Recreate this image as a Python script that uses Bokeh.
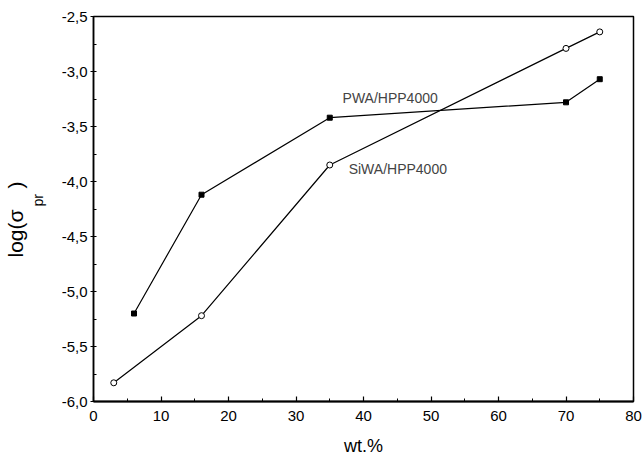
from bokeh.plotting import figure
from bokeh.models import FixedTicker, Label, Range1d, CustomJSTickFormatter, Title
from bokeh.embed import file_html
from bokeh.resources import INLINE

# data
wt_pwa = [6, 16, 35, 70, 75]
log_pwa = [-5.20, -4.12, -3.42, -3.28, -3.07]
wt_siwa = [3, 16, 35, 70, 75]
log_siwa = [-5.83, -5.22, -3.85, -2.79, -2.64]

x_ticks = [0, 10, 20, 30, 40, 50, 60, 70, 80]
y_ticks = [-6.0, -5.5, -5.0, -4.5, -4.0, -3.5, -3.0, -2.5]
series_names = ["PWA/HPP4000", "SiWA/HPP4000"]
x_title = "wt.%"
y_title_main = "log(σ\u2003)"
y_title_sub = "\u2003\u2005pr"

FONT = "Liberation Sans"

p = figure(width=643, height=460,
           x_range=Range1d(0, 80), y_range=Range1d(-6.0, -2.5),
           output_backend="svg", toolbar_location=None,
           min_border_left=93, min_border_right=10,
           min_border_top=16, min_border_bottom=59)

p.xgrid.visible = False
p.ygrid.visible = False
p.outline_line_color = "black"
p.outline_line_width = 1.5
p.background_fill_color = "white"
p.border_fill_color = "white"

x_minor = [t + 5 for t in x_ticks[:-1]]
y_minor = [t + 0.25 for t in y_ticks[:-1]]
p.xaxis.ticker = FixedTicker(ticks=x_ticks, minor_ticks=x_minor)
p.yaxis.ticker = FixedTicker(ticks=y_ticks, minor_ticks=y_minor)
p.yaxis.formatter = CustomJSTickFormatter(code="return tick.toFixed(1).replace('.', ',');")
p.xaxis.formatter = CustomJSTickFormatter(code="return tick.toFixed(0);")

for ax in (p.xaxis[0], p.yaxis[0]):
    ax.axis_line_width = 1.5
    ax.axis_line_color = "black"
    ax.major_tick_line_color = "black"
    ax.minor_tick_line_color = "black"
    ax.major_tick_line_width = 1.2
    ax.minor_tick_line_width = 1
    ax.major_label_text_font = FONT
    ax.major_label_text_font_size = "15px"
    ax.major_label_text_color = "black"
    ax.axis_label_text_font = FONT
    ax.axis_label_text_font_style = "normal"
    ax.axis_label_text_color = "black"

p.xaxis.axis_line_width = 2
p.xaxis.major_tick_in = 5
p.xaxis.major_tick_out = 0
p.xaxis.minor_tick_in = 3
p.xaxis.minor_tick_out = 0
p.xaxis.major_label_standoff = 9
p.xaxis.axis_label = x_title
p.xaxis.axis_label_text_font_size = "18px"
p.xaxis.axis_label_standoff = 12

p.yaxis.major_tick_in = 3
p.yaxis.major_tick_out = 3
p.yaxis.minor_tick_in = 3
p.yaxis.minor_tick_out = 0
p.yaxis.major_label_standoff = 3
# subscript part of the y title sits between tick labels and the main title
p.yaxis.axis_label = y_title_sub
p.yaxis.axis_label_text_font_size = "14px"
p.yaxis.axis_label_standoff = 13

# main part of the y title: "log(σ   )"
p.add_layout(Title(text=y_title_main, align="left", offset=144, standoff=0,
                   vertical_align="bottom", text_font=FONT, text_font_size="21px",
                   text_font_style="normal", text_color="black"), "left")

# series
p.line(wt_pwa, log_pwa, line_color="black", line_width=1.2)
p.scatter(wt_pwa, log_pwa, marker="square", size=5, fill_color="black", line_color="black")
p.line(wt_siwa, log_siwa, line_color="black", line_width=1.2)
p.scatter(wt_siwa, log_siwa, marker="circle", size=6, fill_color="white", line_color="black", line_width=1)

# series labels
p.add_layout(Label(x=36.9, y=-3.24, text=series_names[0], text_font=FONT,
                   text_font_size="14px", text_baseline="middle", text_align="left"))
p.add_layout(Label(x=37.8, y=-3.89, text=series_names[1], text_font=FONT,
                   text_font_size="14px", text_baseline="middle", text_align="left"))

open("out.html", "w").write(file_html(p, INLINE))
